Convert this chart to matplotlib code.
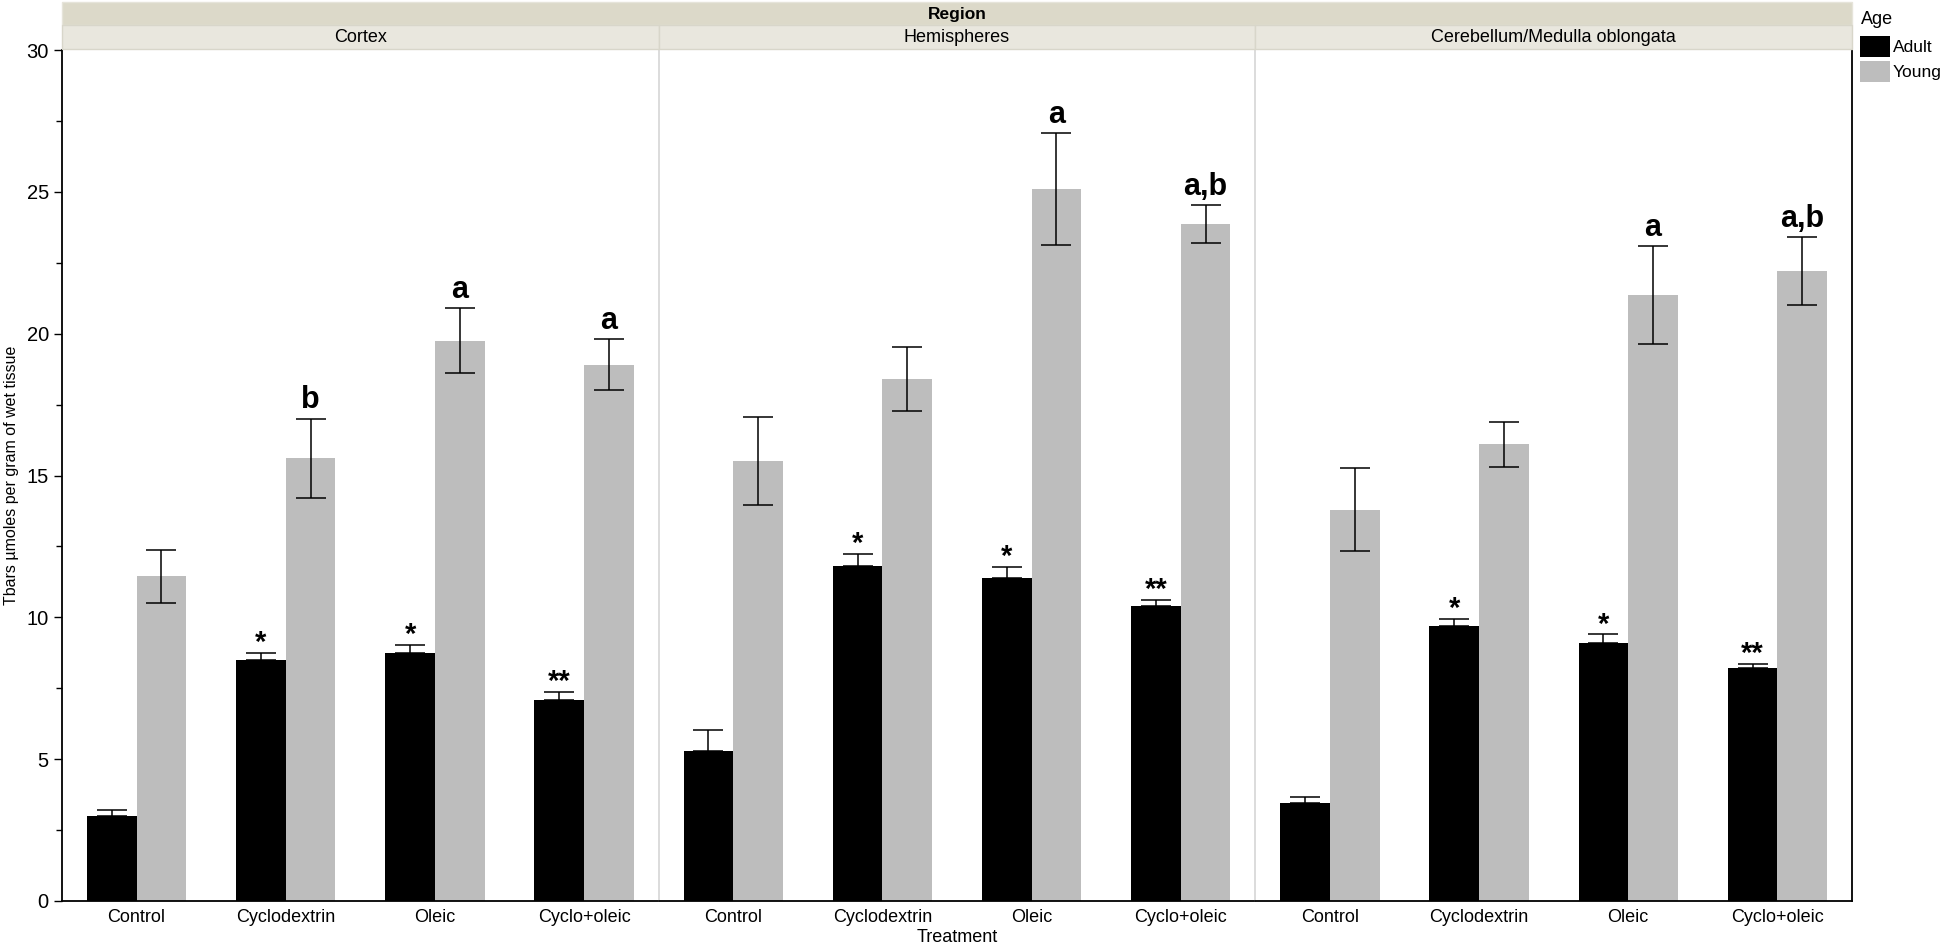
import numpy as np
import matplotlib.pyplot as plt
from matplotlib.patches import Rectangle, Patch

plt.rcParams['font.family'] = ['Liberation Sans', 'DejaVu Sans']

# Daten
regions = ["Cortex", "Hemispheres", "Cerebellum/Medulla oblongata"]
treatments = ["Control", "Cyclodextrin", "Oleic", "Cyclo+oleic"]

adult = [
    [3.0, 8.5, 8.75, 7.1],
    [5.3, 11.8, 11.4, 10.4],
    [3.45, 9.7, 9.1, 8.2],
]
adult_err = [
    [0.22, 0.25, 0.28, 0.28],
    [0.72, 0.45, 0.37, 0.22],
    [0.2, 0.25, 0.3, 0.15],
]
young = [
    [11.45, 15.6, 19.75, 18.9],
    [15.5, 18.4, 25.1, 23.85],
    [13.8, 16.1, 21.35, 22.2],
]
young_err = [
    [0.93, 1.4, 1.15, 0.9],
    [1.55, 1.12, 1.97, 0.67],
    [1.45, 0.8, 1.73, 1.2],
]
stars = [
    ["", "*", "*", "**"],
    ["", "*", "*", "**"],
    ["", "*", "*", "**"],
]
letters = [
    ["", "b", "a", "a"],
    ["", "", "a", "a,b"],
    ["", "", "a", "a,b"],
]

ADULT_COLOR = "black"
YOUNG_COLOR = "#bdbdbd"
STRIP_TOP = "#dcd9c9"
STRIP_FACET = "#e9e7de"

W, H = 1946, 944
fig = plt.figure(figsize=(W / 100, H / 100), dpi=100)

left, right = 62 / W, 1852 / W
bottom, top = 1 - 901 / H, 1 - 50 / H
fig.subplots_adjust(left=left, right=right, bottom=bottom, top=top, wspace=0)
axes = fig.subplots(1, 3, sharey=True)

x = np.arange(len(treatments))
bw = 1 / 3

for i, ax in enumerate(axes):
    ax.bar(x - bw / 2, adult[i], width=bw, color=ADULT_COLOR)
    ax.bar(x + bw / 2, young[i], width=bw, color=YOUNG_COLOR)
    ax.errorbar(x - bw / 2, adult[i], yerr=[np.zeros(4), adult_err[i]],
                fmt="none", ecolor="black", elinewidth=1.1, capsize=11, capthick=1.1)
    ax.errorbar(x + bw / 2, young[i], yerr=young_err[i],
                fmt="none", ecolor="black", elinewidth=1.1, capsize=11, capthick=1.1)

    for j in range(4):
        if stars[i][j]:
            ax.text(x[j] - bw / 2, adult[i][j] + adult_err[i][j] - 0.15, stars[i][j],
                    ha="center", va="bottom", fontsize=21, fontweight="bold")
        if letters[i][j]:
            ax.text(x[j] + bw / 2, young[i][j] + young_err[i][j] + 0.12, letters[i][j],
                    ha="center", va="bottom", fontsize=22, fontweight="bold")

    ax.set_xlim(-0.5, 3.5)
    ax.set_xticks(x)
    ax.set_xticklabels(treatments, fontsize=13)
    ax.tick_params(axis="x", length=0, pad=6)
    ax.spines["top"].set_visible(False)
    ax.spines["right"].set_visible(False)
    ax.spines["bottom"].set_linewidth(1.3)
    if i > 0:
        ax.spines["left"].set_color("#d9d9d9")
        ax.spines["left"].set_linewidth(1.3)
        ax.tick_params(axis="y", left=False, which="both")
    else:
        ax.spines["left"].set_linewidth(1.3)

axes[-1].spines["right"].set_visible(True)
axes[-1].spines["right"].set_linewidth(1.3)

ax0 = axes[0]
ax0.set_ylim(0, 30)
ax0.set_yticks([0, 5, 10, 15, 20, 25, 30])
ax0.set_yticks(np.arange(2.5, 30, 5), minor=True)
ax0.tick_params(axis="y", which="major", length=6, width=1, labelsize=14.5)
ax0.tick_params(axis="y", which="minor", length=4, width=1)
fig.text(12 / W, (bottom + top) / 2, "Tbars µmoles per gram of wet tissue",
         rotation=90, ha="center", va="center", fontsize=11.5)
fig.text((left + right) / 2, 1 - 937 / H, "Treatment", ha="center", va="center", fontsize=13)

# Streifen oben
fig.add_artist(Rectangle((left, 1 - 25 / H), right - left, 23 / H, transform=fig.transFigure,
                         facecolor=STRIP_TOP, edgecolor="#e6e4da", linewidth=1))
fig.text((left + right) / 2, 1 - 14 / H, "Region", ha="center", va="center",
         fontsize=12.5, fontweight="bold")
pw = (right - left) / 3
for i, name in enumerate(regions):
    x0 = left + i * pw
    fig.add_artist(Rectangle((x0, 1 - 49 / H), pw, 24 / H, transform=fig.transFigure,
                             facecolor=STRIP_FACET, edgecolor="#d8d6ca", linewidth=1))
    fig.text(x0 + pw / 2, 1 - 37 / H, name, ha="center", va="center", fontsize=13)

# Legende
fig.text(1861 / W, 1 - 19 / H, "Age", ha="left", va="center", fontsize=13)
handles = [Patch(facecolor=ADULT_COLOR, label="Adult"),
           Patch(facecolor=YOUNG_COLOR, label="Young")]
fig.legend(handles=handles, loc="upper left",
           bbox_to_anchor=(1860 / W, 1 - 36 / H), frameon=False, fontsize=12.5,
           handlelength=1.75, handleheight=1.45, handletextpad=0.15,
           labelspacing=0.25, borderpad=0, borderaxespad=0)

fig.savefig("out.png", dpi=100)
